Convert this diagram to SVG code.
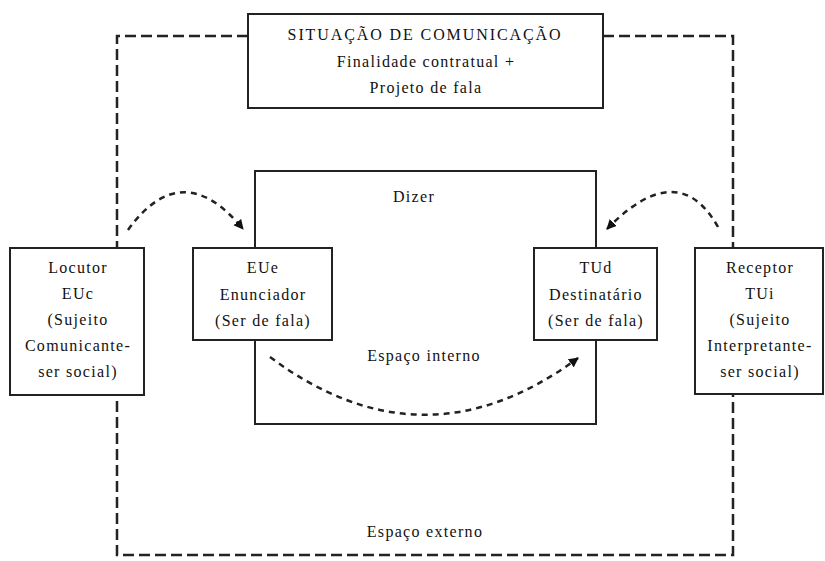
<svg xmlns="http://www.w3.org/2000/svg" width="825" height="561" viewBox="0 0 825 561" font-family="Liberation Serif, serif">
<style>
text{font-size:16px;letter-spacing:1.3px;fill:#111;text-anchor:middle}
.title{letter-spacing:1.9px}
.box{fill:#fff;stroke:#222;stroke-width:2}
.outer{fill:none;stroke:#222;stroke-width:2.5;stroke-dasharray:11 5}
.flow{fill:none;stroke:#222;stroke-width:2.5;stroke-dasharray:6 5;marker-end:url(#ah)}
</style>
<defs>
<marker id="ah" viewBox="0 0 10 10" refX="9" refY="5" markerWidth="4" markerHeight="4" orient="auto" markerUnits="strokeWidth">
<path d="M0,0 L10,5 L0,10 z" fill="#111"/>
</marker>
</defs>
<g id="outer-space">
<path class="outer" d="M248,36 H117 V555 H733 V36 H603"/>
<text x="425" y="537">Espaço externo</text>
</g>
<g id="inner-space">
<rect class="box" x="255" y="171" width="341" height="253"/>
<text x="414" y="202">Dizer</text>
<text x="424" y="361">Espaço interno</text>
</g>
<g id="situacao">
<rect class="box" x="248" y="14" width="355" height="94"/>
<text class="title" x="425" y="40">SITUAÇÃO DE COMUNICAÇÃO</text>
<text x="426" y="67">Finalidade contratual +</text>
<text x="426" y="93">Projeto de fala</text>
</g>
<g id="locutor">
<rect class="box" x="10" y="248" width="134" height="147"/>
<text x="78" y="273">Locutor</text>
<text x="78" y="299">EUc</text>
<text x="78" y="325">(Sujeito</text>
<text x="78" y="351">Comunicante-</text>
<text x="78" y="377">ser social)</text>
</g>
<g id="eue">
<rect class="box" x="193" y="248" width="139" height="92"/>
<text x="263" y="273">EUe</text>
<text x="263" y="300">Enunciador</text>
<text x="263" y="326">(Ser de fala)</text>
</g>
<g id="tud">
<rect class="box" x="534" y="248" width="123" height="92"/>
<text x="596" y="273">TUd</text>
<text x="596" y="300">Destinatário</text>
<text x="596" y="326">(Ser de fala)</text>
</g>
<g id="receptor">
<rect class="box" x="695" y="248" width="128" height="146"/>
<text x="760" y="273">Receptor</text>
<text x="760" y="299">TUi</text>
<text x="760" y="325">(Sujeito</text>
<text x="760" y="351">Interpretante-</text>
<text x="760" y="377">ser social)</text>
</g>
<g id="connectors">
<path class="flow" d="M128,230 Q182,155 243,229"/>
<path class="flow" d="M718,227 Q678,156 607,229"/>
<path class="flow" d="M270,357 Q424,472 578,358"/>
</g>
</svg>
